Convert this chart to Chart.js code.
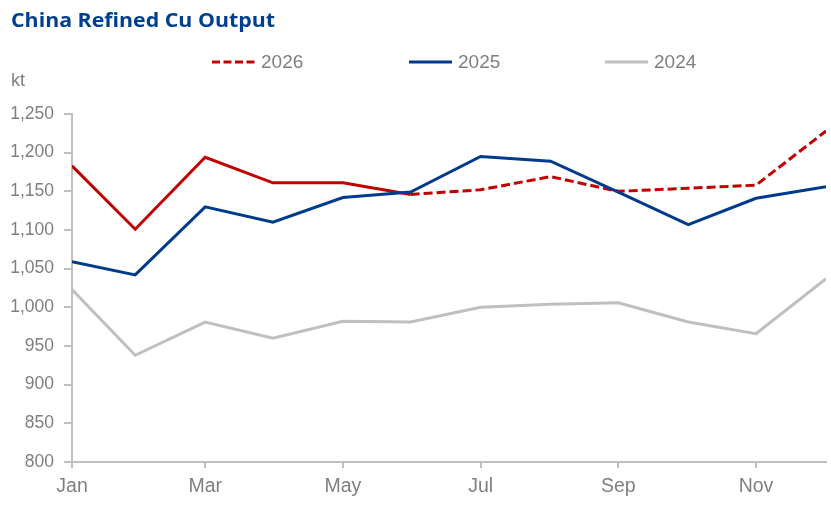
<!DOCTYPE html>
<html>
<head>
<meta charset="utf-8">
<script src="https://cdn.jsdelivr.net/npm/chart.js@4/dist/chart.umd.min.js"></script>
<style>
  html, body { margin: 0; padding: 0; background: #ffffff; }
  #wrap { width: 831px; height: 508px; position: relative; }
</style>
</head>
<body>
<div id="wrap"><canvas id="c" width="831" height="508"></canvas></div>
<script>
// ---- data ----
const monthNames = ['Jan','Feb','Mar','Apr','May','Jun','Jul','Aug','Sep','Oct','Nov','Dec'];
const monthEndDates = ['2025-01-31','2025-02-28','2025-03-31','2025-04-30','2025-05-31','2025-06-30',
                       '2025-07-31','2025-08-31','2025-09-30','2025-10-31','2025-11-30','2025-12-31'];
const tickMonths = ['Jan','Mar','May','Jul','Sep','Nov'];
const values2026 = [1183, 1101, 1194, 1161, 1161, 1146, 1152, 1169, 1150, 1154, 1158, 1228];
const actualMonths2026 = 6; // Jan–Jun actual, rest forecast (dashed)
const values2025 = [1059, 1042, 1130, 1110, 1142, 1149, 1195, 1189, 1149, 1107, 1141, 1156];
const values2024 = [1023, 938, 981, 960, 982, 981, 1000, 1004, 1006, 981, 966, 1037];
const yTicksMin = 800, yTicksMax = 1250, yStep = 50;

// day offsets from first month end (date axis)
const t0 = Date.parse(monthEndDates[0]);
const dayOffsets = monthEndDates.map(d => Math.round((Date.parse(d) - t0) / 86400000));
const toPts = vals => vals.map((v, i) => ({ x: dayOffsets[i], y: v }));
const tickValues = tickMonths.map(m => dayOffsets[monthNames.indexOf(m)]);

const RED = '#c00000', BLUE = '#003a8c', GRAY = '#bfbfbf', TXT = '#7f7f7f', AXIS = '#bfbfbf';
const FONT = "'Liberation Sans', Arial, sans-serif";

const overlay = {
  id: 'overlay',
  afterDraw(chart) {
    const ctx = chart.ctx;
    ctx.save();
    // title
    ctx.fillStyle = '#003f8f';
    ctx.font = "bold 19px 'Open Sans', sans-serif";
    ctx.textBaseline = 'alphabetic';
    ctx.textAlign = 'left';
    const title = 'China Refined Cu Output';
    const w = ctx.measureText(title).width;
    ctx.translate(11, 27);
    ctx.scale(264 / w, 1);
    ctx.fillText(title, 0, 0);
    ctx.restore();

    ctx.save();
    // unit
    ctx.fillStyle = TXT;
    ctx.font = '18px ' + FONT;
    ctx.textBaseline = 'alphabetic';
    ctx.fillText('kt', 11, 86);
    // legend
    ctx.font = '19px ' + FONT;
    const items = [
      { ds: 0, x: 212 },
      { ds: 1, x: 409 },
      { ds: 2, x: 605 }
    ];
    items.forEach(it => {
      const d = chart.data.datasets[it.ds];
      ctx.strokeStyle = d.borderColor;
      ctx.lineWidth = 3;
      ctx.setLineDash(d.legendDash || []);
      ctx.beginPath();
      ctx.moveTo(it.x, 62);
      ctx.lineTo(it.x + 43, 62);
      ctx.stroke();
      ctx.setLineDash([]);
      ctx.fillStyle = TXT;
      ctx.textBaseline = 'middle';
      ctx.fillText(d.label, it.x + 49, 63);
    });
    ctx.restore();
  }
};

new Chart(document.getElementById('c'), {
  type: 'line',
  data: {
    datasets: [
      {
        label: '2026', data: toPts(values2026), borderColor: RED, backgroundColor: RED,
        borderWidth: 3, pointRadius: 0, order: 1, legendDash: [8, 3.5],
        segment: { borderDash: c => c.p0DataIndex >= actualMonths2026 - 1 ? [9, 4] : [] }
      },
      { label: '2025', data: toPts(values2025), borderColor: BLUE, backgroundColor: BLUE,
        borderWidth: 3, pointRadius: 0, order: 0 },
      { label: '2024', data: toPts(values2024), borderColor: GRAY, backgroundColor: GRAY,
        borderWidth: 3, pointRadius: 0, order: 2 }
    ]
  },
  options: {
    responsive: false,
    animation: false,
    events: [],
    layout: { padding: { left: 0, right: 5, top: 114, bottom: 0 } },
    plugins: { legend: { display: false }, title: { display: false }, tooltip: { enabled: false } },
    scales: {
      x: {
        type: 'linear',
        min: dayOffsets[0], max: dayOffsets[dayOffsets.length - 1],
        afterBuildTicks: s => { s.ticks = tickValues.map(v => ({ value: v })); },
        afterFit: s => { s.height = 46; },
        ticks: {
          autoSkip: false, maxRotation: 0, padding: 7,
          color: TXT, font: { family: FONT, size: 19.5 },
          callback: v => monthNames[dayOffsets.indexOf(v)]
        },
        grid: { drawOnChartArea: false, drawTicks: true, tickLength: 6, color: AXIS, lineWidth: 2 },
        border: { color: AXIS, width: 2 }
      },
      y: {
        min: yTicksMin, max: yTicksMax,
        afterFit: s => { s.width = 72; },
        ticks: {
          stepSize: yStep, padding: 10, color: TXT, font: { family: FONT, size: 17.5 },
          callback: v => v.toLocaleString('en-US')
        },
        grid: { drawOnChartArea: false, drawTicks: true, tickLength: 8, color: AXIS, lineWidth: 2 },
        border: { color: AXIS, width: 2 }
      }
    }
  },
  plugins: [overlay]
});
</script>
</body>
</html>
